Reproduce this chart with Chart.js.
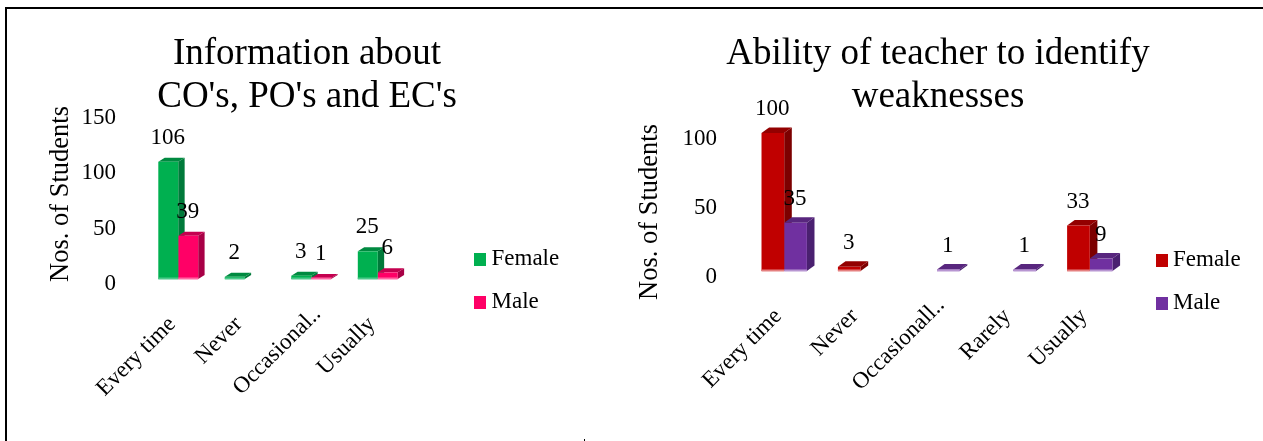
<!DOCTYPE html>
<html>
<head>
<meta charset="utf-8">
<script src="https://cdn.jsdelivr.net/npm/chart.js@4"></script>
<style>
html,body{margin:0;padding:0;background:#fff;overflow:hidden}
body{position:relative;width:1263px;height:441px}
.c{position:absolute;top:0;height:441px}
#a{position:absolute;left:5px;top:7px;width:1258px;height:2px;background:#000}
#b{position:absolute;left:5px;top:7px;width:2px;height:434px;background:#000}
#d{position:absolute;left:584px;top:439px;width:1px;height:2px;background:#000}
</style>
</head>
<body>
<div id="a"></div><div id="b"></div><div id="d"></div>
<div class="c" style="left:0;width:630px"><canvas id="c1"></canvas></div>
<div class="c" style="left:630px;width:633px"><canvas id="c2"></canvas></div>
<script>
const categoriesA = ["Every time", "Never", "Occasional..", "Usually"];
const femaleA = [106, 2, 3, 25];
const maleA = [39, null, 1, 6];
const ticksMaxA = 150;

const categoriesB = ["Every time", "Never", "Occasionall..", "Rarely", "Usually"];
const femaleB = [100, 3, null, null, 33];
const maleB = [35, null, 1, 1, 9];
const ticksMaxB = 100;

const FONT = '"Liberation Serif"';
const PAL = {
  green:{front:'#00B050',side:'#007A3A',top:'#008A40',base:'#4CC98A'},
  pink:{front:'#FF0066',side:'#A80046',top:'#C4004F',base:'#FF66A3'},
  red:{front:'#C00000',side:'#7C0000',top:'#930000',base:'#E58080'},
  purple:{front:'#7030A0',side:'#4A2070',top:'#58267E',base:'#B896D2'}
};
function poly(ctx,pts,fill){ctx.fillStyle=fill;ctx.beginPath();pts.forEach((p,i)=>i?ctx.lineTo(p[0],p[1]):ctx.moveTo(p[0],p[1]));ctx.closePath();ctx.fill();}
function marker(color){const m=document.createElement('canvas');m.width=12;m.height=13;const g=m.getContext('2d');g.fillStyle=color;g.fillRect(0,0,12,13);return m;}

function makeChart(id,cfg){
  const marks=cfg.pal.map(p=>marker(p.front));
  const depth3d={
    id:'depth3d',
    afterLayout(chart){
      const t=chart.titleBlock; t.left=0; t.right=cfg.titleCx*2; t.top=cfg.titleTop; t.bottom=cfg.titleTop+86;
      const l=chart.legend; l.left=cfg.legendX-20+6; l.right=l.left+l.width; l.top=cfg.legendY-11.5-20; l.bottom=l.top+l.height+40;
      const s=chart.scales.y;
      if(!s._wrapped){
        const orig=s.drawTitle; s._wrapped=true;
        s.drawTitle=function(){const a=this.top,b=this.bottom;this.top+=cfg.yTitleShift;this.bottom+=cfg.yTitleShift;orig.call(this);this.top=a;this.bottom=b;};
      }
      const items=chart.scales.x.getLabelItems();
      const it=items[2];
      it.options.translation=[it.options.translation[0]+cfg.longNudge[0],it.options.translation[1]+cfg.longNudge[1]];
    },
    beforeDatasetsDraw(chart){
      const ctx=chart.ctx;
      chart.data.datasets.forEach((ds,di)=>{
        const c=cfg.pal[di];
        chart.getDatasetMeta(di).data.forEach((bar,i)=>{
          if(ds.data[i]==null) return;
          const w=bar.width/2,L=bar.x-w,R=bar.x+w,T=bar.y,B=bar.base,dx=cfg.dx,dy=cfg.dy;
          poly(ctx,[[R,B],[R+dx,B-dy],[R+dx,T-dy],[R,T]],c.side);
          poly(ctx,[[L,T],[R,T],[R+dx,T-dy],[L+dx,T-dy]],c.top);
        });
      });
    },
    afterDatasetsDraw(chart){
      const ctx=chart.ctx;
      chart.data.datasets.forEach((ds,di)=>{
        const c=cfg.pal[di];
        chart.getDatasetMeta(di).data.forEach((bar,i)=>{
          if(ds.data[i]==null) return;
          const w=bar.width/2;
          ctx.fillStyle=c.base;ctx.fillRect(bar.x-w,bar.base-1.5,w*2,2);
        });
      });
      ctx.save();
      ctx.fillStyle='#000';ctx.font='23px '+FONT;ctx.textAlign='center';ctx.textBaseline='middle';
      chart.data.datasets.forEach((ds,di)=>{
        chart.getDatasetMeta(di).data.forEach((bar,i)=>{
          if(ds.data[i]==null) return;
          ctx.fillText(String(ds.data[i]),bar.x-0.5,bar.y-24);
        });
      });
      ctx.restore();
    }
  };
  return new Chart(document.getElementById(id),{
    type:'bar',
    data:{labels:cfg.labels,datasets:[
      {label:'Female',data:cfg.female,backgroundColor:cfg.pal[0].front,categoryPercentage:cfg.catPct,barPercentage:1},
      {label:'Male',data:cfg.male,backgroundColor:cfg.pal[1].front,categoryPercentage:cfg.catPct,barPercentage:1}
    ]},
    plugins:[depth3d],
    options:{
      responsive:true,maintainAspectRatio:false,animation:false,devicePixelRatio:1,
      layout:{padding:{top:cfg.plotTop-86,right:cfg.padRight,left:0,bottom:0}},
      plugins:{
        tooltip:{enabled:false},
        title:{display:true,text:cfg.title,color:'#000',padding:0,font:{family:FONT,size:37,weight:'normal',lineHeight:'43px'}},
        legend:{position:'chartArea',align:'start',labels:{
          color:'#000',boxWidth:0.01,boxHeight:12,usePointStyle:true,padding:20,font:{family:FONT,size:23},
          generateLabels:c=>Chart.defaults.plugins.legend.labels.generateLabels(c).map((l,i)=>Object.assign(l,{pointStyle:marks[i]}))
        }}
      },
      scales:{
        x:{
          grid:{display:false},border:{display:false},
          afterFit:s=>{s.height=441-cfg.plotBottom;},
          ticks:{color:'#000',autoSkip:false,minRotation:45,maxRotation:45,padding:cfg.xPad,labelOffset:-6,font:{family:FONT,size:23}}
        },
        y:{
          min:0,max:cfg.max,
          grid:{display:false,drawTicks:false},border:{display:false},
          afterFit:s=>{s.width=cfg.plotLeft;},
          ticks:{color:'#000',stepSize:50,padding:29,labelOffset:cfg.labelOffset,font:{family:FONT,size:23}},
          title:{display:true,text:'Nos. of Students',color:'#000',padding:{top:cfg.yTitlePad,bottom:0},font:{family:FONT,size:26.5,lineHeight:1.2}}
        }
      }
    }
  });
}

makeChart('c1',{
  labels:categoriesA,female:femaleA,male:maleA,max:ticksMaxA,pal:[PAL.green,PAL.pink],
  title:["Information about","CO's, PO's and EC's"],
  titleCx:307,titleTop:33,plotTop:113,plotBottom:279,plotLeft:145,padRight:219,catPct:0.6,
  dx:6.4,dy:4,legendX:474,legendY:259,xPad:24,labelOffset:5,yTitlePad:45,yTitleShift:-2,longNudge:[12,-10]
});
makeChart('c2',{
  labels:categoriesB,female:femaleB,male:maleB,max:ticksMaxB,pal:[PAL.red,PAL.purple],
  title:["Ability of teacher to identify","weaknesses"],
  titleCx:308,titleTop:33,plotTop:133,plotBottom:271,plotLeft:116,padRight:135,catPct:0.594,
  dx:7.6,dy:5.5,legendX:525.5,legendY:260,xPad:24,labelOffset:6,yTitlePad:4,yTitleShift:10,longNudge:[10,-11]
});
</script>
</body>
</html>
